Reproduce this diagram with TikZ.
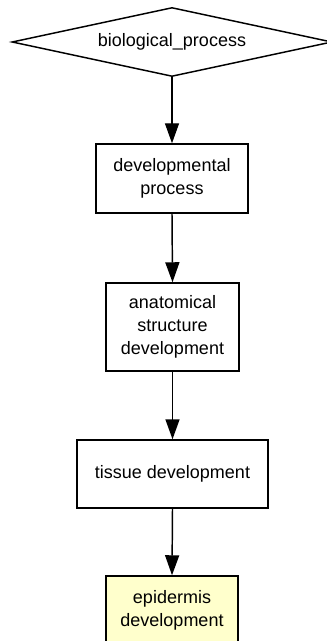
\documentclass[tikz,border=0pt]{standalone}
\usepackage{fontspec}
\setmainfont{Liberation Sans}
\usetikzlibrary{shapes.geometric, arrows.meta}
\definecolor{termyellow}{RGB}{255,255,204}

\begin{document}
\begin{tikzpicture}[
  x=0.75pt, y=-0.75pt,
  term/.style={rectangle, draw=black, line width=1.1pt, fill=white,
    align=center, font=\fontsize{13.5}{17}\selectfont, inner sep=0pt},
  root/.style={diamond, draw=black, line width=1.1pt, fill=white,
    font=\fontsize{13.5}{17}\selectfont, inner sep=0pt, aspect=4.64,
    minimum width=240pt, minimum height=51.75pt},
  focus/.style={term, fill=termyellow},
  isa/.style={-{Triangle[length=15pt, width=10.5pt]}, line width=1.1pt},
]
%% page frame, 327 x 641 px
\useasboundingbox (0,0) rectangle (327,641);
\clip (0,0) rectangle (327,641);

%% ── Terms ───────────────────────────────────────────────────────────────────
\node[root] (bp) at (172, 42) {biological\_process};
\node[term, minimum width=114pt, minimum height=51.75pt] (dp) at (172, 178.5)
  {developmental\\process};
\node[term, minimum width=99.75pt, minimum height=66pt] (asd) at (172.5, 327)
  {anatomical\\structure\\development};
\node[term, minimum width=143.25pt, minimum height=51pt] (td) at (172.5, 474)
  {tissue development};
\node[focus, minimum width=99pt, minimum height=51.75pt] (ed) at (172, 610.5)
  {epidermis\\development};

%% ── is_a edges ──────────────────────────────────────────────────────────────
\draw[isa] (bp.south)  -- (dp.north);
\draw[isa] (dp.south)  -- (asd.north);
\draw[isa] (asd.south) -- (td.north);
\draw[isa] (td.south)  -- (ed.north);

\end{tikzpicture}
\end{document}
